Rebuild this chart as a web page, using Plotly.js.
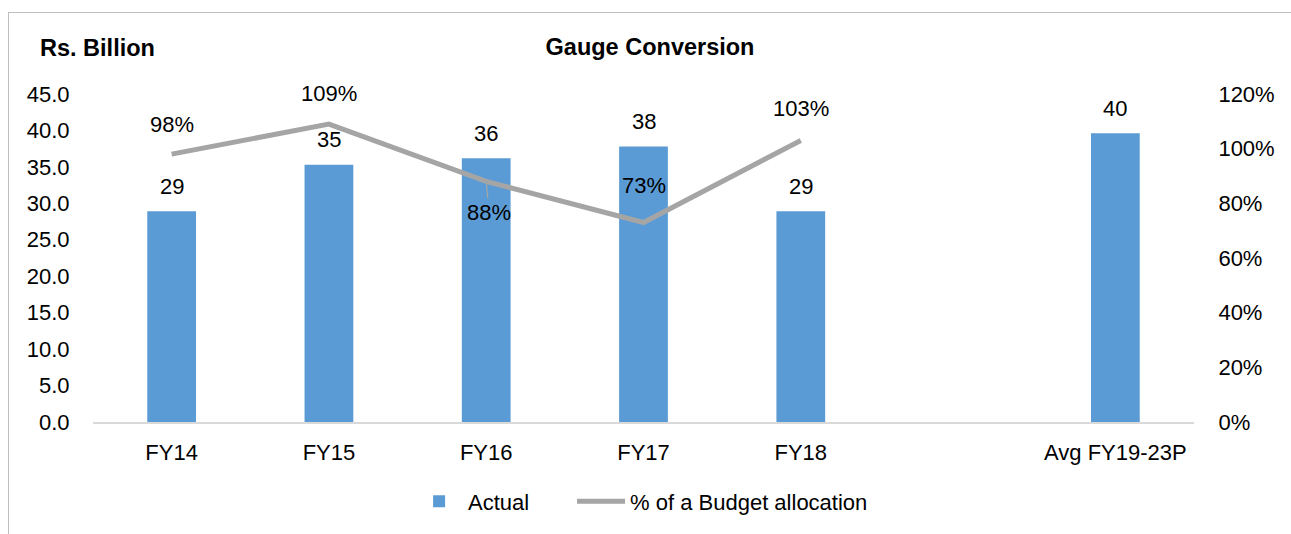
<!DOCTYPE html>
<html><head><meta charset="utf-8">
<script src="https://cdn.plot.ly/plotly-3.0.1.min.js"></script>
<style>
html,body{margin:0;padding:0;background:#fff;}
#wrap{position:relative;width:1291px;height:534px;}
#chart{width:1291px;height:534px;}
#frame{position:absolute;left:8px;top:12px;right:-2px;bottom:-2px;border-top:1px solid #BFBFBF;border-left:1px solid #BFBFBF;pointer-events:none;}
</style></head>
<body><div id="wrap"><div id="chart"></div><div id="frame"></div></div>
<script>
const categories = ['FY14','FY15','FY16','FY17','FY18',' ','Avg FY19-23P'];
const actual = [28.9, 35.3, 36.2, 37.8, 28.9, null, 39.6];
const actualLabels = ['29','35','36','38','29','','40'];
const pctCategories = ['FY14','FY15','FY16','FY17','FY18'];
const pctBudget = [98, 109, 88, 73, 103];
const pctLabels = ['98%','109%','88%','73%','103%'];
const pctLabelShift = [30, 31, -31, 37, 32];

const font = {family:'Liberation Sans, Arial, sans-serif', size:22, color:'#000'};
const boldFont = {family:'Liberation Sans, Arial, sans-serif', size:23.5, color:'#000'};

const traces = [
  {type:'bar', name:'Actual', x:categories, y:actual, marker:{color:'#5B9BD5'}, hoverinfo:'skip', legend:'legend'},
  {type:'scatter', mode:'lines', name:'% of a Budget allocation', x:pctCategories, y:pctBudget, yaxis:'y2',
   line:{color:'#A5A5A5', width:5}, hoverinfo:'skip', legend:'legend2'}
];

const annotations = [];
categories.forEach((c,i)=>{
  if(actual[i]==null) return;
  annotations.push({x:c, y:actual[i], xref:'x', yref:'y', text:actualLabels[i], showarrow:false,
    yshift:25, font:font});
});
pctCategories.forEach((c,i)=>{
  if(pctLabelShift[i] < 0){
    annotations.push({x:c, y:pctBudget[i], xref:'x', yref:'y2', text:pctLabels[i], showarrow:true,
      arrowhead:0, arrowwidth:1.2, arrowcolor:'#A5A5A5', ax:3, ay:-pctLabelShift[i], standoff:2, font:font});
  } else {
    annotations.push({x:c, y:pctBudget[i], xref:'x', yref:'y2', text:pctLabels[i], showarrow:false,
      yshift:pctLabelShift[i], font:font});
  }
});
annotations.push({xref:'paper', yref:'paper', x:-0.05, y:1.14, xanchor:'left', yanchor:'middle',
  text:'<b>Rs. Billion</b>', showarrow:false, font:boldFont});

const legendBase = {orientation:'h', xanchor:'left', y:-0.242, yanchor:'middle', font:font, itemwidth:48};

const layout = {
  width:1291, height:534,
  margin:{l:93, r:97, t:93.5, b:110},
  paper_bgcolor:'#fff', plot_bgcolor:'#fff',
  font:font,
  title:{text:'<b>Gauge Conversion</b>', x:0.5035, xanchor:'center', y:1-47/534, yanchor:'middle', font:boldFont},
  bargap:0.69,
  showlegend:true,
  legend:Object.assign({}, legendBase, {x:0.288}),
  legend2:Object.assign({}, legendBase, {x:0.4351}),
  xaxis:{type:'category', categoryorder:'array', categoryarray:categories, showgrid:false, zeroline:false,
    showline:true, linecolor:'#D9D9D9', linewidth:1.5, ticks:'outside', ticklen:10, tickcolor:'rgba(0,0,0,0)', tickfont:font, fixedrange:true},
  yaxis:{range:[0,45], dtick:5, tickformat:'.1f', showgrid:false, zeroline:false, showline:false,
    ticks:'outside', ticklen:18, tickcolor:'rgba(0,0,0,0)', tickfont:font, fixedrange:true},
  yaxis2:{range:[0,120], dtick:20, ticksuffix:'%', overlaying:'y', side:'right', showgrid:false, zeroline:false,
    showline:false, ticks:'outside', ticklen:19, tickcolor:'rgba(0,0,0,0)', tickfont:font, fixedrange:true},
  annotations:annotations
};
Plotly.newPlot('chart', traces, layout, {displayModeBar:false, staticPlot:true});
</script></body></html>
